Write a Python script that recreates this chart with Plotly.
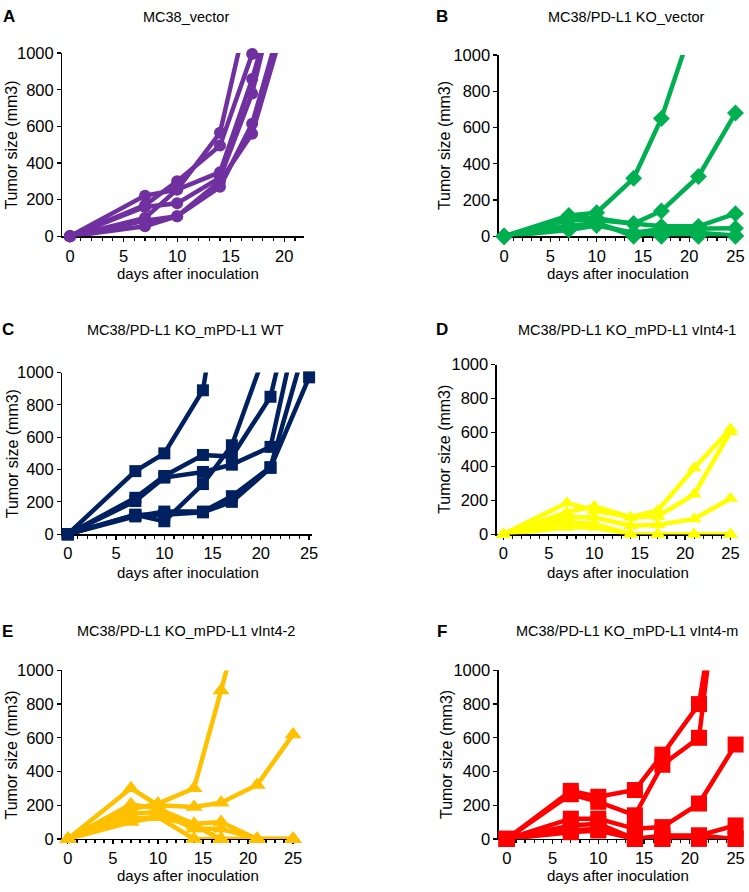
import plotly.graph_objects as go

# ---- data ----
days = [0, 7, 10, 14, 17, 21, 25]

panel_letters = ["A", "B", "C", "D", "E", "F"]
panel_titles = [
    "MC38_vector",
    "MC38/PD-L1 KO_vector",
    "MC38/PD-L1 KO_mPD-L1 WT",
    "MC38/PD-L1 KO_mPD-L1 vInt4-1",
    "MC38/PD-L1 KO_mPD-L1 vInt4-2",
    "MC38/PD-L1 KO_mPD-L1 vInt4-m",
]

mc38_vector = [
    [0, 222, 255, 565, 1330],
    [0, 170, 300, 495, 995, 1800],
    [0, 100, 255, 350, 858, 1670],
    [0, 160, 180, 320, 780, 1760],
    [0, 85, 110, 270, 615, 1430],
    [0, 55, 110, 300, 560, 1360],
]
ko_vector = [
    [0, 115, 130, 320, 650, 1260],
    [0, 100, 100, 70, 140, 330, 680],
    [0, 90, 90, 70, 55, 55, 125],
    [0, 35, 60, 20, 40, 45, 45],
    [0, 110, 75, 0, 0, 0, 0],
    [0, 60, 70, 10, 20, 20, 5],
]
ko_wt = [
    [0, 390, 500, 890, 1990],
    [0, 120, 80, 310, 550, 1215],
    [0, 225, 360, 490, 480, 850, 1850],
    [0, 205, 350, 385, 430, 540, 1620],
    [0, 110, 140, 140, 235, 415, 1250],
    [0, 120, 120, 135, 200, 410, 970],
]
ko_vint4_1 = [
    [0, 185, 140, 100, 140, 390, 620],
    [0, 130, 165, 100, 105, 235, 605],
    [0, 100, 100, 50, 55, 90, 210],
    [0, 70, 60, 0, 0, 0, 0],
    [0, 40, 40, 0, 0, 0, 0],
]
ko_vint4_2 = [
    [0, 300, 200, 190, 215, 320, 620],
    [0, 175, 210, 300, 880, 1680],
    [0, 205, 180, 90, 100, 0, 0],
    [0, 150, 160, 60, 60, 0, 0],
    [0, 120, 130, 0, 0, 0, 0],
    [0, 100, 130, 80, 0, 0, 0],
]
ko_vint4_m = [
    [0, 285, 250, 290, 500, 800, 2130],
    [0, 265, 220, 140, 440, 600, 2380],
    [0, 120, 120, 60, 70, 210, 560],
    [0, 80, 90, 0, 20, 20, 80],
    [0, 50, 60, 0, 0, 0, 0],
    [0, 40, 50, 0, 0, 20, 0],
]
panel_data = [mc38_vector, ko_vector, ko_wt, ko_vint4_1, ko_vint4_2, ko_vint4_m]

y_ticks = [0, 200, 400, 600, 800, 1000]

# ---- styles / layout ----
W, H = 749, 892
colors = ["#7030A0", "#00B050", "#002060", "#FFFF00", "#FFC000", "#FF0000"]
symbols = ["circle", "diamond", "square", "triangle-up", "triangle-up", "square"]
msizes = [12, 13, 12, 13, 15, 16]
# pixel boxes: (left, right, top, bottom), x ranges
boxes = [
    (63, 306, 45, 232),
    (503, 747, 47, 232),
    (63, 315, 371, 536),
    (501, 741, 363, 536),
    (63, 300, 675, 847),
    (503, 748, 675, 847),
]
xranges = [[-0.7, 21.8], [-0.55, 25.6], [-0.55, 25.35], [-0.7, 25.5], [-0.6, 25.5], [-0.85, 25.7]]
letter_pos = [(9, 8), (446, 8), (8, 327), (446, 327), (8, 635), (446, 635)]
title_pos = [(187, 8), (632, 8), (187, 328), (632, 328), (188, 635), (632, 635)]
xtitle_pos = [(190, 270), (623, 270), (190, 575), (623, 575), (190, 884), (623, 884)]
ytitle_x = [12, 448, 12, 448, 12, 450]

FONT = "Liberation Sans, Arial, sans-serif"
fig = go.Figure()
annotations = []

for i in range(6):
    n = "" if i == 0 else str(i + 1)
    xa, ya = "x" + n, "y" + n
    for mouse in panel_data[i]:
        fig.add_trace(go.Scatter(
            x=days[:len(mouse)], y=mouse, xaxis=xa, yaxis=ya,
            mode="lines+markers", cliponaxis=False, showlegend=False,
            line=dict(color=colors[i], width=4.5),
            marker=dict(symbol=symbols[i], size=msizes[i], color=colors[i]),
        ))
    l, r, t, b = boxes[i]
    fig.layout["xaxis" + n] = dict(
        domain=[l / W, r / W], range=xranges[i], anchor=ya,
        tickmode="linear", tick0=0, dtick=5, ticks="outside", ticklen=4,
        tickwidth=1.2, tickcolor="black",
        minor=dict(dtick=1, tick0=0, ticks="outside", ticklen=3, tickwidth=1.2, tickcolor="black"),
        showline=True, linecolor="black", linewidth=1.5, showgrid=False, zeroline=False,
        tickfont=dict(family=FONT, size=16.5, color="black"), layer="below traces", fixedrange=True,
    )
    fig.layout["yaxis" + n] = dict(
        domain=[1 - b / H, 1 - t / H], range=[0, 1000], anchor=xa,
        tickmode="array", tickvals=y_ticks, ticks="outside", ticklen=4,
        tickwidth=1.2, tickcolor="black",
        showline=True, linecolor="black", linewidth=1.5, showgrid=False, zeroline=False,
        tickfont=dict(family=FONT, size=16.5, color="black"), layer="below traces", fixedrange=True,
    )
    lx, ly = letter_pos[i]
    annotations.append(dict(text="<b>" + panel_letters[i] + "</b>", x=lx / W, y=1 - ly / H,
                            xref="paper", yref="paper", showarrow=False, xanchor="center", yanchor="middle",
                            font=dict(family=FONT, size=17, color="black")))
    tx, ty = title_pos[i]
    annotations.append(dict(text=panel_titles[i], x=tx / W, y=1 - ty / H,
                            xref="paper", yref="paper", showarrow=False, xanchor="center", yanchor="middle",
                            font=dict(family=FONT, size=14.5, color="black")))
    xx, xy = xtitle_pos[i]
    annotations.append(dict(text="days after inoculation", x=xx / W, y=1 - xy / H,
                            xref="paper", yref="paper", showarrow=False, xanchor="center", yanchor="middle",
                            font=dict(family=FONT, size=15, color="black")))
    annotations.append(dict(text="Tumor size (mm3)", x=ytitle_x[i] / W, y=1 - ((t + b) / 2) / H,
                            xref="paper", yref="paper", showarrow=False, xanchor="center", yanchor="middle",
                            textangle=-90, font=dict(family=FONT, size=16, color="black")))

fig.update_layout(
    width=W, height=H, margin=dict(l=0, r=0, t=0, b=0),
    paper_bgcolor="white", plot_bgcolor="white",
    annotations=annotations, showlegend=False, hovermode=False,
)
fig.write_html(
    "out.html",
    config={"displayModeBar": False, "staticPlot": True},
    post_script="document.body.style.margin='0';document.body.style.overflow='hidden';",
)
